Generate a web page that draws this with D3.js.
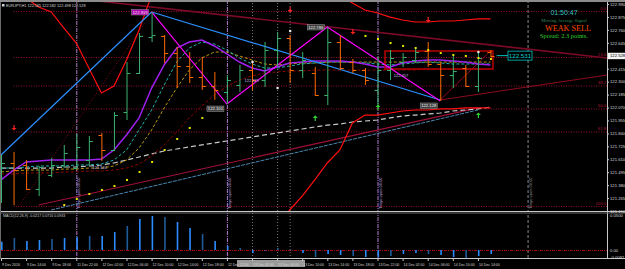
<!DOCTYPE html>
<html>
<head>
<meta charset="utf-8">
<script src="https://cdn.jsdelivr.net/npm/d3@7"></script>
<style>
  html, body { margin: 0; padding: 0; background: #000; }
  svg { display: block; }
  text { font-family: "Liberation Sans", Arial, sans-serif; }
</style>
</head>
<body>
<svg id="chart" width="625" height="269"></svg>
<script>
// ---- data (EURJPY, 2h bars) ----
const timeLabels = ["9 Dec 2016", "9 Dec 14:00", "9 Dec 18:00", "11 Dec 22:00", "12 Dec 02:00",
  "12 Dec 06:00", "12 Dec 10:00", "12 Dec 14:00", "12 Dec 18:00", "12 Dec 22:00", "13 Dec 02:00",
  "13 Dec 06:00", "13 Dec 10:00", "13 Dec 14:00", "13 Dec 18:00", "13 Dec 22:00", "14 Dec 02:00",
  "14 Dec 06:00", "14 Dec 10:00", "14 Dec 14:00"];

const opens = [121.426,121.577,121.559,121.346,121.470,121.559,121.532,121.603,121.826,121.692,
  122.030,122.377,122.697,122.706,122.554,122.439,122.341,122.261,122.208,122.270,
  122.403,122.314,122.581,122.688,122.403,122.377,122.181,122.652,122.474,122.403,
  122.226,122.403,122.474,122.492,122.572,122.457,122.359,122.421,122.261,122.563];
const highs = [121.648,121.674,121.603,121.550,121.621,121.737,121.834,121.817,121.843,122.030,
  122.474,122.732,122.919,122.714,122.608,122.563,122.519,122.386,122.359,122.448,
  122.474,122.652,122.741,122.714,122.563,122.430,122.786,122.714,122.501,122.421,
  122.519,122.581,122.554,122.608,122.652,122.474,122.537,122.448,122.563,122.581];
const lows = [121.221,121.203,121.337,121.283,121.452,121.532,121.523,121.559,121.594,121.683,
  121.959,122.368,122.652,122.466,122.243,122.288,122.226,122.137,122.101,122.208,
  122.226,122.252,122.430,122.288,122.332,122.172,122.092,122.403,122.377,122.270,
  122.074,122.314,122.430,122.466,122.430,122.128,122.243,122.252,122.208,122.519];
const closes = [121.577,121.514,121.346,121.541,121.559,121.666,121.719,121.772,121.692,122.003,
  122.377,122.706,122.714,122.554,122.439,122.341,122.261,122.226,122.314,122.403,
  122.314,122.581,122.688,122.403,122.492,122.181,122.652,122.421,122.403,122.314,
  122.403,122.510,122.519,122.563,122.457,122.359,122.394,122.261,122.510,122.528];

// moving averages
const maPurple = [121.426,121.514,121.586,121.594,121.603,121.603,121.603,121.603,121.612,121.692,
  121.826,121.977,122.243,122.448,122.599,122.652,122.670,122.617,122.546,122.474,
  122.421,122.394,122.430,122.466,122.474,122.483,122.483,122.483,122.474,122.457,
  122.430,122.430,122.466,122.483,122.492,122.492,122.483,122.474,122.457,122.448];
const maTeal = [121.532,121.532,121.541,121.550,121.550,121.550,121.559,121.559,121.568,121.603,
  121.692,121.870,122.048,122.270,122.474,122.599,122.652,122.634,122.581,122.510,
  122.457,122.421,122.421,122.439,122.457,122.466,122.474,122.474,122.474,122.466,
  122.457,122.448,122.457,122.466,122.474,122.466,122.457,122.457,122.457,122.457];
const maOlive = [121.497,121.506,121.514,121.514,121.514,121.523,121.523,121.532,121.532,121.550,
  121.603,121.710,121.870,122.066,122.243,122.403,122.510,122.563,122.563,122.528,
  122.492,122.457,122.448,122.457,122.466,122.466,122.474,122.474,122.474,122.474,
  122.474,122.474,122.474,122.474,122.474,122.474,122.474,122.474,122.474,122.474];
const maDarkRed = [121.479,121.479,121.488,121.488,121.488,121.497,121.497,121.506,121.506,121.514,
  121.532,121.568,121.639,121.737,121.852,121.977,122.083,122.181,122.261,122.314,
  122.350,122.377,122.386,122.394,122.394,122.403,122.403,122.403,122.403,122.403,
  122.403,122.403,122.403,122.403,122.412,122.412,122.412,122.412,122.412,122.412];
const maLong = [121.532,121.532,121.532,121.532,121.532,121.541,121.541,121.550,121.559,121.577,
  121.603,121.630,121.657,121.683,121.701,121.719,121.737,121.755,121.772,121.790,
  121.808,121.826,121.843,121.861,121.879,121.897,121.914,121.923,121.941,121.950,
  121.959,121.977,121.995,122.003,122.012,122.021,122.039,122.048,122.057,122.074];

// red channel bands (gaps where off chart)
const bandUpper = [null,null,123.043,122.963,122.919,122.777,122.643,122.421,122.199,122.261,
  122.492,122.759,123.070,null,null,null,null,null,null,null,
  null,null,null,null,null,null,null,123.070,122.999,122.937,
  122.910,122.874,122.848,122.830,122.830,122.839,122.839,122.848,122.857,122.857];
const bandLower = [null,null,null,null,null,null,null,null,null,null,
  null,null,null,null,null,null,null,null,null,null,
  null,null,121.026,121.159,121.283,121.426,121.577,121.692,121.932,122.003,
  122.003,122.021,122.039,122.048,122.048,122.057,122.057,122.066,122.066,122.066];

// parabolic dots
const sarDots = [null,null,null,null,null,121.203,121.257,121.301,121.337,121.372,
  121.426,121.497,121.586,121.692,121.790,121.888,121.977,null,null,null,
  null,null,null,null,null,null,null,null,null,122.706,
  122.679,122.643,122.617,122.599,122.581,122.554,122.537,122.528,122.510,122.501];

// MACD histogram
const macdHist = [0.0119,0.0171,0.0129,0.0143,0.0157,0.0171,0.0186,0.0200,0.0200,0.0257,
  0.0343,0.0443,0.0486,0.0471,0.0400,0.0314,0.0229,0.0129,0.0057,0.0029,
  -0.0043,-0.0005,0.0029,0.0003,-0.0043,-0.0100,-0.0057,-0.0071,-0.0086,-0.0100,
  -0.0100,-0.0086,-0.0057,-0.0043,-0.0057,-0.0071,-0.0100,-0.0114,-0.0086,-0.0057];

// zigzag turning points [bar, price]
const zigzag = [[12, 122.919], [18, 122.101], [26, 122.786], [35, 122.128]];

// straight trend lines [bar, price] -> [bar, price]
const blueLines = [[[0, 121.648], [12, 122.919]], [[12, 122.919], [35, 122.137]]];
const upperChannel = [[7, 123.026], [48.3, 122.510]];
const lowerChannel = [[3, 121.203], [38, 122.066]];
const lowerSteel = [[4, 121.159], [38, 122.048]];
const fanLines = [[[35, 122.137], [48.3, 122.359]], [[35, 122.137], [39, 122.572]]];
const dottedRay = [[1.5, 121.203], [11.5, 122.830]];
const rangeBox = { from: 30.6, to: 39.2, top: 122.572, bottom: 122.412 };

// fibonacci retracement
const fibHigh = 122.928, fibLow = 121.195;
const fibLevels = [0, 23.6, 38.2, 50.0, 61.8, 100.0];

// arrows and markers [bar, price]
const sellArrows = [[1, 121.888], [23, 122.937], [28, 122.741], [34, 122.848]];
const buyArrows = [[25, 121.977], [30, 122.074], [38, 122.003]];
const whiteDots = [[20, 122.474], [22, 122.243], [23, 122.750], [38, 122.563]];
const priceNotes = [[7.3, 121.520, "121.524"], [19.4, 122.300, "122.329"], [31.3, 122.337, "122.357"]];

// axes
const priceTicks = [122.990, 122.875, 122.760, 122.645, 122.530, 122.415, 122.300, 122.185,
  122.070, 121.955, 121.840, 121.725, 121.610, 121.495, 121.380, 121.265, 121.150];
const daySeparators = [6, 18, 30];
const gridMarks = [20, 22, 23];
const futureMark = 42;
const lastPrice = 122.528, askPrice = 122.531;

// ---- drawing ----
const W = 625, H = 269, plotRight = 607;
const svg = d3.select("#chart");
const x = d3.scaleLinear().domain([0, 48]).range([1, 603.4]);
const y = d3.scaleLinear().domain([121.150, 122.990]).range([211, 4]);
const ym = d3.scaleLinear().domain([0, 0.05]).range([250, 215]);

svg.append("rect").attr("width", W).attr("height", H).attr("fill", "#000");

const defs = svg.append("defs");
defs.append("clipPath").attr("id", "mainClip").append("rect")
  .attr("x", 0).attr("y", 2).attr("width", plotRight).attr("height", 209);
defs.append("clipPath").attr("id", "macdClip").append("rect")
  .attr("x", 0).attr("y", 213).attr("width", plotRight).attr("height", 45);

const main = svg.append("g").attr("clip-path", "url(#mainClip)");
const sub = svg.append("g").attr("clip-path", "url(#macdClip)");

// vertical separators through both windows
[main, sub].forEach((g) => {
  g.selectAll(null).data(daySeparators).enter().append("line")
    .attr("x1", (d) => x(d) + 0.5).attr("x2", (d) => x(d) + 0.5)
    .attr("y1", 0).attr("y2", 260)
    .attr("stroke", "#b07cc8").attr("stroke-dasharray", "4,1,1,1").attr("stroke-width", 1);
  g.selectAll(null).data(gridMarks).enter().append("line")
    .attr("x1", (d) => x(d) + 0.5).attr("x2", (d) => x(d) + 0.5)
    .attr("y1", 0).attr("y2", 260)
    .attr("stroke", "#7a7a7a").attr("stroke-dasharray", "1,2");
  g.append("line")
    .attr("x1", x(futureMark)).attr("x2", x(futureMark))
    .attr("y1", 0).attr("y2", 260)
    .attr("stroke", "#5a5a5a").attr("stroke-dasharray", "3,2").attr("stroke-width", 1.5);
});

// rotated labels along separators
main.selectAll(null).data(daySeparators.concat([futureMark])).enter().append("text")
  .attr("transform", (d) => `translate(${x(d) + 4},209) rotate(-90)`)
  .attr("font-size", 4)
  .attr("fill", (d) => (d === futureMark ? "#9a9a9a" : "#c8a8e8"))
  .text("Tokyo open 00:00");

// fibonacci levels
main.selectAll(null).data(fibLevels).enter().append("line")
  .attr("x1", x(1)).attr("x2", plotRight)
  .attr("y1", (d) => y(fibHigh - (fibHigh - fibLow) * d / 100) + 0.5)
  .attr("y2", (d) => y(fibHigh - (fibHigh - fibLow) * d / 100) + 0.5)
  .attr("stroke", "#9a1030").attr("stroke-dasharray", "1,1.5");
main.selectAll(null).data(fibLevels).enter().append("text")
  .attr("x", 606).attr("text-anchor", "end")
  .attr("y", (d) => y(fibHigh - (fibHigh - fibLow) * d / 100) - 1)
  .attr("font-size", 4.2).attr("fill", "#b01838")
  .text((d) => d.toFixed(1));

const seg = (pts) => d3.line().x((d) => x(d[0])).y((d) => y(d[1]))(pts);
const series = d3.line().defined((d) => d != null).x((d, i) => x(i)).y((d) => y(d));

// straight lines
main.append("path").attr("d", seg(upperChannel)).attr("fill", "none")
  .attr("stroke", "#7a0a28").attr("stroke-width", 1.6);
main.append("path").attr("d", seg(lowerSteel)).attr("fill", "none")
  .attr("stroke", "#4a86b0").attr("stroke-width", 1).attr("stroke-dasharray", "4,1");
main.append("path").attr("d", seg(lowerChannel)).attr("fill", "none")
  .attr("stroke", "#a0103a").attr("stroke-width", 1.2);
main.append("path").attr("d", seg(dottedRay)).attr("fill", "none")
  .attr("stroke", "#8a0a1a").attr("stroke-dasharray", "1,2");
fanLines.forEach((l) => main.append("path").attr("d", seg(l)).attr("fill", "none")
  .attr("stroke", "#900a20").attr("stroke-width", 1));

// long moving average and the slower ones
main.append("path").attr("d", series(maLong)).attr("fill", "none")
  .attr("stroke", "#c8c8c8").attr("stroke-width", 1.2).attr("stroke-dasharray", "5,3");
main.append("path").attr("d", series(maDarkRed)).attr("fill", "none")
  .attr("stroke", "#8b0000").attr("stroke-width", 1).attr("stroke-dasharray", "3,2");
main.append("path").attr("d", series(maOlive)).attr("fill", "none")
  .attr("stroke", "#b8960b").attr("stroke-width", 1).attr("stroke-dasharray", "3,2");
main.append("path").attr("d", series(maTeal)).attr("fill", "none")
  .attr("stroke", "#20b2aa").attr("stroke-width", 1).attr("stroke-dasharray", "3,2");
main.append("path").attr("d", series(maPurple)).attr("fill", "none")
  .attr("stroke", "#a020f0").attr("stroke-width", 1.5);

// red bands
[bandUpper, bandLower].forEach((b) => main.append("path").attr("d", series(b))
  .attr("fill", "none").attr("stroke", "#ff1010").attr("stroke-width", 1.2));

// range box
main.append("rect")
  .attr("x", x(rangeBox.from)).attr("y", y(rangeBox.top))
  .attr("width", x(rangeBox.to) - x(rangeBox.from))
  .attr("height", y(rangeBox.bottom) - y(rangeBox.top))
  .attr("fill", "none").attr("stroke", "#b00000").attr("stroke-width", 1.6);

// blue trend lines and zigzag
blueLines.forEach((l) => main.append("path").attr("d", seg(l)).attr("fill", "none")
  .attr("stroke", "#2a90ff").attr("stroke-width", 1.2));
main.append("path").attr("d", seg(zigzag)).attr("fill", "none")
  .attr("stroke", "#ff00ff").attr("stroke-width", 1.2);

// OHLC bars
const bars = opens.map((o, i) => ({ i, o, h: highs[i], l: lows[i], c: closes[i] }));
const barColor = (d) => (d.c >= d.o ? "#3cb371" : "#ff6a00");
const bg = main.append("g");
bg.selectAll(".hl").data(bars).enter().append("line")
  .attr("x1", (d) => x(d.i) + 0.5).attr("x2", (d) => x(d.i) + 0.5)
  .attr("y1", (d) => y(d.h)).attr("y2", (d) => y(d.l))
  .attr("stroke", barColor).attr("stroke-width", 1);
bg.selectAll(".op").data(bars).enter().append("line")
  .attr("x1", (d) => x(d.i) - 3).attr("x2", (d) => x(d.i) + 0.5)
  .attr("y1", (d) => y(d.o) + 0.5).attr("y2", (d) => y(d.o) + 0.5)
  .attr("stroke", barColor).attr("stroke-width", 1);
bg.selectAll(".cl").data(bars).enter().append("line")
  .attr("x1", (d) => x(d.i) + 0.5).attr("x2", (d) => x(d.i) + 4)
  .attr("y1", (d) => y(d.c) + 0.5).attr("y2", (d) => y(d.c) + 0.5)
  .attr("stroke", barColor).attr("stroke-width", 1);

// parabolic dots
main.selectAll(null).data(sarDots.map((v, i) => [i, v]).filter((d) => d[1] != null))
  .enter().append("rect")
  .attr("x", (d) => x(d[0]) - 0.5).attr("y", (d) => y(d[1]) - 1)
  .attr("width", 2).attr("height", 2).attr("fill", "#e8e800");

// white markers
main.selectAll(null).data(whiteDots).enter().append("circle")
  .attr("cx", (d) => x(d[0]) + 0.5).attr("cy", (d) => y(d[1])).attr("r", 1.3)
  .attr("fill", "#e8e8e8");

// arrows
const arrow = (cx, cy, dir) => {
  const s = dir;
  return `M${cx - 0.6},${cy - 3 * s}L${cx + 0.6},${cy - 3 * s}L${cx + 0.6},${cy}` +
    `L${cx + 2.5},${cy}L${cx},${cy + 2.6 * s}L${cx - 2.5},${cy}L${cx - 0.6},${cy}Z`;
};
main.selectAll(null).data(sellArrows).enter().append("path")
  .attr("d", (d) => arrow(x(d[0]) + 0.5, y(d[1]), 1)).attr("fill", "#ff2020");
main.selectAll(null).data(buyArrows).enter().append("path")
  .attr("d", (d) => arrow(x(d[0]) + 0.5, y(d[1]), -1)).attr("fill", "#30d030");

// zigzag labels
const zzFmt = d3.format(".3f");
const zzLabels = main.selectAll(null).data(zigzag).enter().append("g")
  .attr("transform", (d, k) => `translate(${x(d[0]) - 20},${y(d[1]) + (k % 2 ? 2 : -2.5)})`);
zzLabels.append("rect").attr("width", 17).attr("height", 5.5)
  .attr("fill", (d, k) => (k === 0 ? "#b000b0" : "#404040"))
  .attr("stroke", "#9a9a9a").attr("stroke-width", 0.5);
zzLabels.append("text").attr("x", 8.5).attr("y", 4.4).attr("text-anchor", "middle")
  .attr("font-size", 4.2).attr("fill", "#f0f0f0").text((d) => zzFmt(d[1]));

main.selectAll(null).data(priceNotes).enter().append("text")
  .attr("x", (d) => x(d[0])).attr("y", (d) => y(d[1]))
  .attr("font-size", 4).attr("fill", "#c8b8e8").text((d) => d[2]);

// current ask box
main.append("line").attr("x1", x(39.5)).attr("x2", 508)
  .attr("y1", y(askPrice)).attr("y2", y(askPrice)).attr("stroke", "#00c0c0");
main.append("rect").attr("x", 508).attr("y", y(askPrice) - 4.5).attr("width", 24).attr("height", 9)
  .attr("fill", "#000").attr("stroke", "#00c0c0").attr("stroke-width", 0.8);
main.append("text").attr("x", 520).attr("y", y(askPrice) + 2.2).attr("text-anchor", "middle")
  .attr("font-size", 6.2).attr("fill", "#00d0d0").text(askPrice.toFixed(3));

// top-right panel
const panel = [
  { t: "01:50:47", y: 15, s: 7, c: "#30c0c0", f: "Liberation Sans" },
  { t: "Moving Average Signal", y: 21.5, s: 4.8, c: "#2e8b57", f: "Liberation Serif" },
  { t: "WEAK SELL", y: 31, s: 8.2, c: "#ff4500", f: "Liberation Serif" },
  { t: "Spread: 2.3 points.", y: 38.3, s: 6.4, c: "#30d030", f: "Liberation Serif" },
];
main.selectAll(null).data(panel).enter().append("text")
  .attr("x", (d) => (d.t === "WEAK SELL" ? 568 : 564)).attr("y", (d) => d.y)
  .attr("text-anchor", "middle").attr("font-size", (d) => d.s)
  .attr("fill", (d) => d.c).style("font-family", (d) => d.f).text((d) => d.t);

// header
svg.append("rect").attr("x", 2).attr("y", 4).attr("width", 2.5).attr("height", 2.5).attr("fill", "#d0d0d0");
svg.append("text").attr("x", 6).attr("y", 7).attr("font-size", 3.8).attr("fill", "#d8d8d8")
  .text("EURJPY,H1  122.565 122.582 122.498 122.528");

// MACD window
sub.append("line").attr("x1", 0).attr("x2", plotRight).attr("y1", ym(0) + 0.5).attr("y2", ym(0) + 0.5)
  .attr("stroke", "#a00010").attr("stroke-dasharray", "3,1,1,1");
sub.selectAll(null).data(macdHist).enter().append("rect")
  .attr("x", (d, i) => x(i))
  .attr("y", (d) => Math.min(ym(d), ym(0)))
  .attr("width", 1.6)
  .attr("height", (d) => Math.max(0.6, Math.abs(ym(d) - ym(0))))
  .attr("fill", (d, i) => (i % 3 === 1 ? "#1f5c9a" : "#2a8cff"));
svg.append("text").attr("x", 3).attr("y", 217).attr("font-size", 3.6).attr("fill", "#d0d0d0")
  .text("MACD(12,26,9) -0.0217 0.0716 0.0933");

// frame
svg.append("rect").attr("x", 0).attr("y", 0).attr("width", W).attr("height", 2).attr("fill", "#8c8c8c");
svg.append("line").attr("x1", plotRight + 0.5).attr("x2", plotRight + 0.5).attr("y1", 2).attr("y2", 259)
  .attr("stroke", "#c8c8c8");
svg.append("line").attr("x1", 0).attr("x2", W).attr("y1", 211.5).attr("y2", 211.5).attr("stroke", "#c8c8c8");
svg.append("line").attr("x1", 0).attr("x2", W).attr("y1", 213).attr("y2", 213).attr("stroke", "#6a6a6a");
svg.append("line").attr("x1", 0).attr("x2", W).attr("y1", 258.5).attr("y2", 258.5).attr("stroke", "#c8c8c8");
svg.append("line").attr("x1", 0.5).attr("x2", 0.5).attr("y1", 2).attr("y2", 259).attr("stroke", "#6a6a6a");

// price axis
const axisG = svg.append("g").attr("transform", `translate(${plotRight},0)`);
axisG.call(d3.axisRight(y).tickValues(priceTicks).tickSize(2).tickFormat(d3.format(".3f")));
axisG.select(".domain").remove();
axisG.selectAll("line").attr("stroke", "#c8c8c8");
axisG.selectAll("text").attr("font-size", 4.2).attr("fill", "#d8d8d8").attr("x", 3)
  .style("font-family", "Liberation Sans");

svg.append("rect").attr("x", plotRight + 1).attr("y", y(lastPrice) - 3.2).attr("width", 18).attr("height", 6.4)
  .attr("fill", "#f4f4f4");
svg.append("text").attr("x", plotRight + 3).attr("y", y(lastPrice) + 1.5).attr("font-size", 4.2)
  .attr("fill", "#000").text(lastPrice.toFixed(3));

// MACD axis
const macdTicks = [[0.05, "0.0500"], [0, "0.00"], [-0.0105, "-0.0092"]];
svg.selectAll(null).data(macdTicks).enter().append("text")
  .attr("x", plotRight + 3).attr("y", (d) => ym(d[0]) + 1.5)
  .attr("font-size", 4.2).attr("fill", "#d8d8d8").text((d) => d[1]);

// time axis
svg.append("rect").attr("x", 237).attr("y", 260).attr("width", 68).attr("height", 7).attr("fill", "#9a9a9a");
svg.selectAll(null).data(timeLabels).enter().append("text")
  .attr("x", (d, k) => x(k * 2) + 1).attr("y", 265.5)
  .attr("font-size", 3.5).attr("fill", "#d8d8d8").text((d) => d);
svg.selectAll(null).data(timeLabels).enter().append("line")
  .attr("x1", (d, k) => x(k * 2) + 0.5).attr("x2", (d, k) => x(k * 2) + 0.5)
  .attr("y1", 259).attr("y2", 261).attr("stroke", "#c8c8c8");
</script>
</body>
</html>
